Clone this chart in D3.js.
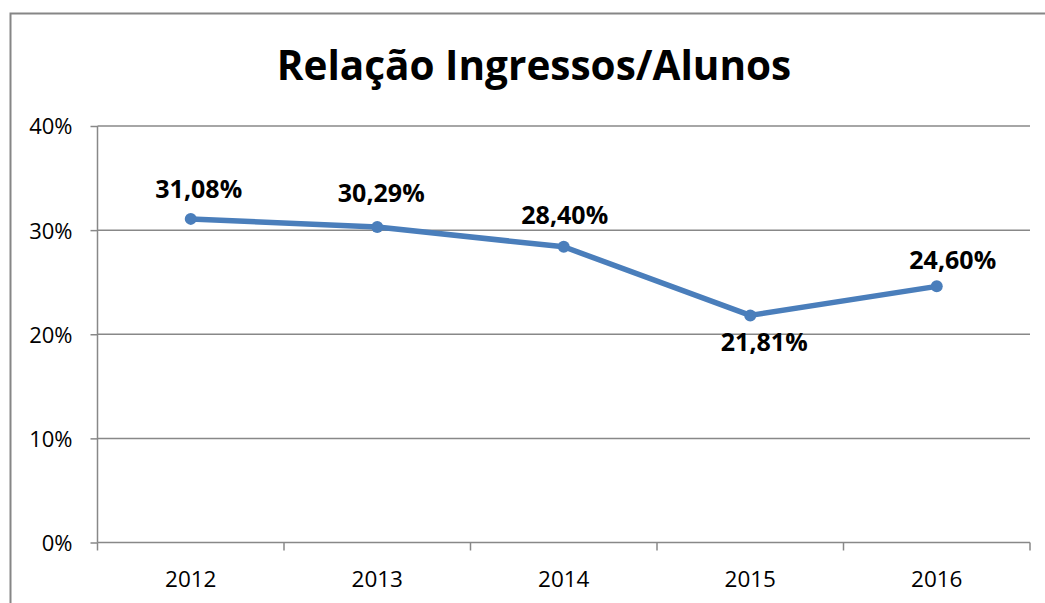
<!DOCTYPE html>
<html><head><meta charset="utf-8">
<script src="https://cdn.jsdelivr.net/npm/d3@7"></script>
<style>html,body{margin:0;padding:0;background:#fff;}svg{display:block;}</style>
</head><body>
<svg id="c" width="1045" height="603"></svg>
<script>
const categories = ["2012","2013","2014","2015","2016"];
const values = [31.08, 30.29, 28.40, 21.81, 24.60];
const valueLabels = ["31,08%","30,29%","28,40%","21,81%","24,60%"];
const yTicks = [0,10,20,30,40];
const title = "Relação Ingressos/Alunos";
// label offsets (style): dx, dy relative to the point
const labelDx = [8, 4, 1, 14, 16];
const labelDy = [-21, -25, -23, 36, -17];

const svg = d3.select("#c");
const font = "'Open Sans', sans-serif";
const plot = {left:97.5, right:1030, top:126, bottom:542.5};

svg.append("rect").attr("x",10.5).attr("y",13.5).attr("width",1100).attr("height",700)
  .attr("fill","#fff").attr("stroke","#868686").attr("stroke-width",2);

svg.append("text").attr("x",534).attr("y",80).attr("text-anchor","middle")
  .attr("font-family",font).attr("font-weight","bold").attr("font-size",40.5).attr("fill","#000").text(title);

const x = d3.scaleBand().domain(categories).range([plot.left, plot.right]).padding(0);
const y = d3.scaleLinear().domain([0,40]).range([plot.bottom, plot.top]);

// gridlines
svg.append("g").selectAll("line").data(yTicks.filter(d=>d>0)).join("line")
  .attr("x1",plot.left).attr("x2",plot.right).attr("y1",d=>y(d)).attr("y2",d=>y(d))
  .attr("stroke","#888").attr("stroke-width",1.5);

// y axis
const yAxis = d3.axisLeft(y).tickValues(yTicks).tickFormat(d=>d+"%").tickSize(7).tickPadding(18);
const gy = svg.append("g").attr("transform",`translate(${plot.left},0)`).call(yAxis);
gy.select(".domain").remove();
gy.append("line").attr("x1",0).attr("x2",0).attr("y1",plot.top).attr("y2",plot.bottom).attr("stroke","#888").attr("stroke-width",1.5);
gy.selectAll(".tick line").attr("stroke","#888").attr("stroke-width",1.5);
gy.selectAll(".tick text").attr("font-family",font).attr("font-size",22).attr("fill","#000").attr("dy","0.36em");

// x axis
const gx = svg.append("g").attr("transform",`translate(0,${plot.bottom})`);
gx.append("line").attr("x1",plot.left).attr("x2",plot.right).attr("stroke","#888").attr("stroke-width",1.5);
const bounds = categories.map(c=>x(c)).concat([x(categories[categories.length-1])+x.bandwidth()]);
gx.selectAll("line.tk").data(bounds).join("line").attr("class","tk")
  .attr("x1",d=>d).attr("x2",d=>d).attr("y1",0).attr("y2",8).attr("stroke","#888").attr("stroke-width",1.5);
gx.selectAll("text").data(categories).join("text")
  .attr("x",d=>x(d)+x.bandwidth()/2).attr("y",44).attr("text-anchor","middle")
  .attr("font-family",font).attr("font-size",22.5).attr("fill","#000").text(d=>d);

// line
const cx = i => x(categories[i]) + x.bandwidth()/2;
const line = d3.line().x((d,i)=>cx(i)).y(d=>y(d));
svg.append("path").datum(values).attr("d",line).attr("fill","none")
  .attr("stroke","#4a7ebb").attr("stroke-width",5.5).attr("stroke-linejoin","round");
svg.append("g").selectAll("circle").data(values).join("circle")
  .attr("cx",(d,i)=>cx(i)).attr("cy",d=>y(d)).attr("r",6).attr("fill","#4a7ebb");

// labels
svg.append("g").selectAll("text").data(values).join("text")
  .attr("x",(d,i)=>cx(i)+labelDx[i])
  .attr("y",(d,i)=>y(d)+labelDy[i])
  .attr("text-anchor","middle").attr("font-family",font).attr("font-weight","bold")
  .attr("font-size",25).attr("fill","#000").text((d,i)=>valueLabels[i]);
</script>
</body></html>
